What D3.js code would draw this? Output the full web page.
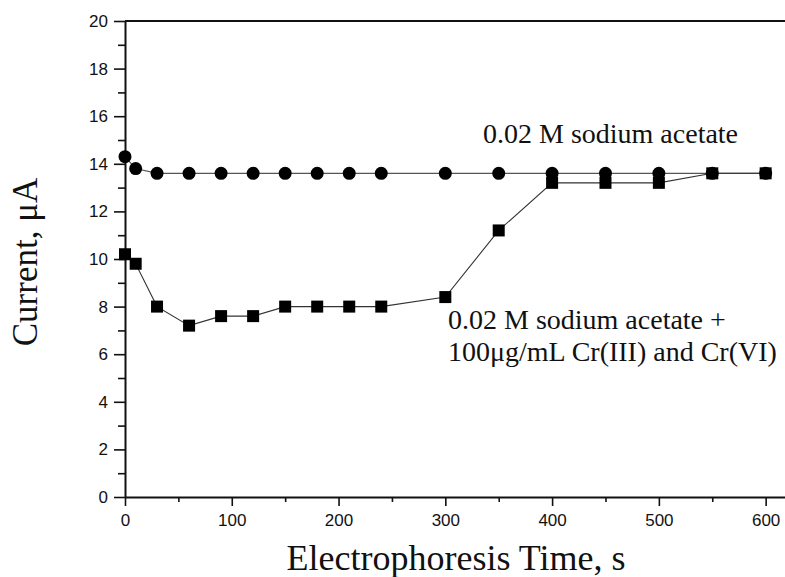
<!DOCTYPE html>
<html>
<head>
<meta charset="utf-8">
<script src="https://cdn.jsdelivr.net/npm/d3@7"></script>
<style>
  body { margin: 0; background: #fff; }
  svg { display: block; }
  .tick text { font-family: "Liberation Sans", Arial, sans-serif; font-size: 17px; fill: #111; }
  .serif { font-family: "Liberation Serif", "Times New Roman", serif; fill: #111; }
</style>
</head>
<body>
<svg width="785" height="577"></svg>
<script>
'use strict';

// time points (s)
const times = [0, 10, 30, 60, 90, 120, 150, 180, 210, 240, 300, 350, 400, 450, 500, 550, 600];
// 0.02 M sodium acetate
const acetate = [14.3, 13.8, 13.6, 13.6, 13.6, 13.6, 13.6, 13.6, 13.6, 13.6, 13.6, 13.6, 13.6, 13.6, 13.6, 13.6, 13.6];
// + 100 ug/mL Cr(III) and Cr(VI)
const withCr = [10.2, 9.8, 8.0, 7.2, 7.6, 7.6, 8.0, 8.0, 8.0, 8.0, 8.4, 11.2, 13.2, 13.2, 13.2, 13.6, 13.6];

const yTicks = [0, 2, 4, 6, 8, 10, 12, 14, 16, 18, 20];
const xTicks = [0, 100, 200, 300, 400, 500, 600];

const svg = d3.select("svg");
const plotL = 125, plotT = 21, plotB = 497, plotR = 787;

const x = d3.scaleLinear().domain([0, 620]).range([plotL, plotR]);
const y = d3.scaleLinear().domain([0, 20]).range([plotB, plotT]);

// minor ticks
svg.append("g")
  .attr("transform", `translate(${plotL},0)`)
  .call(d3.axisLeft(y).tickValues(d3.range(1, 20, 2)).tickSize(7).tickFormat(""))
  .call(g => g.select(".domain").remove())
  .selectAll("line").attr("stroke", "#111").attr("stroke-width", 1.6);

svg.append("g")
  .attr("transform", `translate(0,${plotB})`)
  .call(d3.axisBottom(x).tickValues(d3.range(50, 620, 100)).tickSize(5).tickFormat(""))
  .call(g => g.select(".domain").remove())
  .selectAll("line").attr("stroke", "#111").attr("stroke-width", 1.6);

// major axes
const yAxis = svg.append("g")
  .attr("transform", `translate(${plotL},0)`)
  .call(d3.axisLeft(y).tickValues(yTicks).tickSize(11).tickPadding(6).tickSizeOuter(0));
const xAxis = svg.append("g")
  .attr("transform", `translate(0,${plotB})`)
  .call(d3.axisBottom(x).tickValues(xTicks).tickSize(9).tickPadding(8).tickSizeOuter(0));

[yAxis, xAxis].forEach(a => {
  a.select(".domain").attr("stroke", "#111").attr("stroke-width", 2);
  a.selectAll(".tick line").attr("stroke", "#111").attr("stroke-width", 1.6);
});

// top frame line
svg.append("line")
  .attr("x1", plotL).attr("x2", plotR)
  .attr("y1", y(20)).attr("y2", y(20))
  .attr("stroke", "#111").attr("stroke-width", 2);

const line = d3.line().x(d => x(d[0])).y(d => y(d[1]));

const acetatePts = times.map((t, i) => [t, acetate[i]]);
const crPts = times.map((t, i) => [t, withCr[i]]);

svg.append("path").datum(acetatePts).attr("d", line)
  .attr("fill", "none").attr("stroke", "#555").attr("stroke-width", 1.2);
svg.append("path").datum(crPts).attr("d", line)
  .attr("fill", "none").attr("stroke", "#333").attr("stroke-width", 1.1);

svg.append("g").selectAll("circle").data(acetatePts).join("circle")
  .attr("cx", d => x(d[0])).attr("cy", d => y(d[1]))
  .attr("r", 6.5).attr("fill", "#000");

const s = 12;
svg.append("g").selectAll("rect").data(crPts).join("rect")
  .attr("x", d => x(d[0]) - s / 2).attr("y", d => y(d[1]) - s / 2)
  .attr("width", s).attr("height", s).attr("fill", "#000");

// annotations
svg.append("text").attr("class", "serif")
  .attr("x", 483).attr("y", 143).attr("font-size", 28)
  .text("0.02 M sodium acetate");

svg.append("text").attr("class", "serif")
  .attr("x", 448).attr("y", 329).attr("font-size", 28)
  .text("0.02 M sodium acetate +");
svg.append("text").attr("class", "serif")
  .attr("x", 448).attr("y", 361).attr("font-size", 28)
  .text("100\u03bcg/mL Cr(III) and Cr(VI)");

// axis titles
svg.append("text").attr("class", "serif")
  .attr("text-anchor", "middle").attr("font-size", 35)
  .attr("transform", "translate(37,262) rotate(-90)")
  .text("Current, \u03bcA");

svg.append("text").attr("class", "serif")
  .attr("text-anchor", "middle").attr("font-size", 36)
  .attr("x", 456).attr("y", 570)
  .text("Electrophoresis Time, s");
</script>
</body>
</html>
